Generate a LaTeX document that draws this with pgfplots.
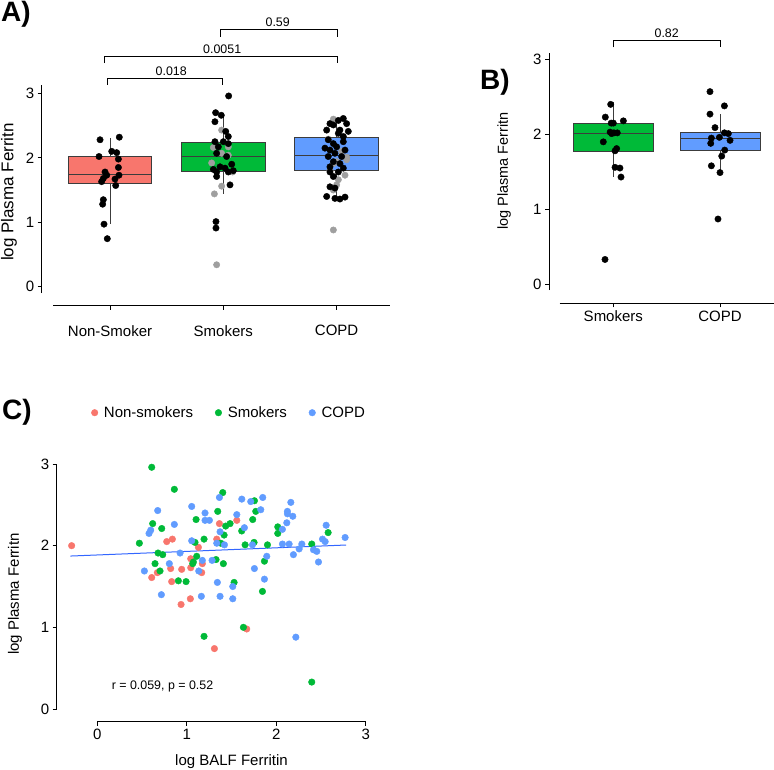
\documentclass[border=0pt]{standalone}
\usepackage{fontspec}
\setmainfont{Liberation Sans}
\usepackage{pgfplots}
\pgfplotsset{compat=1.18}
\usepgfplotslibrary{statistics}
\definecolor{gred}{HTML}{F8766D}
\definecolor{ggreen}{HTML}{00BA38}
\definecolor{gblue}{HTML}{619CFF}
\definecolor{boxline}{HTML}{3C3C3C}
\definecolor{smoothline}{HTML}{3366FF}
\newcommand{\tickfont}{\fontsize{15}{18}\selectfont}
\newcommand{\smallfont}{\fontsize{12.4}{15}\selectfont}

\pgfplotsset{
  panel/.style={
    scale only axis, clip=false,
    axis x line*=bottom, axis y line*=left,
    axis line style={draw=none},
    tick style={black, line width=0.8pt},
    major tick length=4pt, tick align=outside,
    ticklabel style={font=\tickfont},
    /pgf/number format/assume math mode=true,
    ytick={0,1,2,3},
  },
  bx/.style={draw=boxline, line width=0.9pt},
  dots/.style={only marks, mark=*, mark size=3.2pt},
}

\begin{document}
\begin{tikzpicture}
\useasboundingbox (0,0) rectangle (774pt,770pt);

% ---------------- panel A
\begin{axis}[panel, at={(41.7pt,464.3pt)}, anchor=south west,
  width=348.3pt, height=220.7pt,
  xmin=0.397, xmax=3.471, ymin=-0.295, ymax=3.13,
  xtick={1,2,3}, xticklabels={Non-Smoker,Smokers,COPD},
  xticklabel style={yshift=-12pt}]
\addplot[bx, fill=gred, boxplot prepared={draw direction=y, draw position=1, lower whisker=0.97, lower quartile=1.60, median=1.74, upper quartile=2.02, upper whisker=2.31, box extend=0.74, whisker extend=0}] coordinates {};
\addplot[bx, fill=ggreen, boxplot prepared={draw direction=y, draw position=2, lower whisker=1.44, lower quartile=1.79, median=2.02, upper quartile=2.235, upper whisker=2.69, box extend=0.74, whisker extend=0}] coordinates {};
\addplot[bx, fill=gblue, boxplot prepared={draw direction=y, draw position=3, lower whisker=1.36, lower quartile=1.81, median=2.03, upper quartile=2.32, upper whisker=2.61, box extend=0.74, whisker extend=0}] coordinates {};
% grey points
\addplot[dots, gray!75] coordinates {
(1.985,2.43)(1.912,2.16)(2.044,2.17)(1.985,2.07)(2.044,2.04)(1.897,1.92)(2.082,1.78)(1.985,1.56)(1.921,1.44)(1.941,0.34)
(2.971,2.60)(2.926,2.29)(3.044,2.10)(3.088,2.01)(3.088,1.97)(2.971,1.91)(3.000,1.94)(2.941,1.81)(3.074,1.73)(3.015,1.66)(3.000,1.58)(2.971,1.50)(2.971,0.88)
};
% black points
\addplot[dots, black] coordinates {
(0.912,2.28)(1.082,2.32)(0.903,2.02)(1.015,2.10)(1.059,2.08)(1.074,1.98)(1.074,1.85)(0.956,1.78)(0.971,1.73)(0.941,1.68)(0.926,1.63)(1.079,1.73)(1.044,1.67)(1.050,1.57)(0.941,1.35)(0.935,1.28)(0.947,0.97)(0.976,0.745)
(2.047,2.96)(1.932,2.70)(1.982,2.66)(1.926,2.56)(2.021,2.41)(2.044,2.33)(1.926,2.25)(2.000,2.25)(2.044,2.22)(1.956,2.17)(1.941,2.07)(2.029,2.02)(2.074,1.90)(1.912,1.82)(1.941,1.78)(1.971,1.86)(2.015,1.84)(2.044,1.78)(2.088,1.80)(1.941,1.71)(2.059,1.58)(1.935,1.01)(1.935,0.91)
(3.059,2.61)(3.015,2.58)(3.088,2.53)(2.941,2.53)(2.912,2.43)(2.971,2.51)(3.029,2.43)(3.103,2.41)(3.015,2.38)(3.059,2.33)(2.926,2.28)(2.971,2.22)(3.059,2.25)(2.897,2.15)(3.000,2.17)(2.941,2.12)(2.985,2.07)(3.074,2.12)(3.044,2.02)(2.926,2.02)(2.971,1.94)(2.941,1.86)(3.029,1.91)(3.059,1.84)(2.941,1.78)(3.015,1.78)(2.971,1.71)(2.941,1.55)(2.985,1.53)(2.912,1.40)(2.985,1.37)(3.029,1.36)(3.074,1.39)
};
% axis lines
\draw[black, line width=0.9pt] (axis cs:0.397,-0.10) -- (axis cs:0.397,3.13);
\draw[black, line width=0.9pt] (axis cs:0.497,-0.295) -- (axis cs:3.471,-0.295);
% brackets
\draw[line width=0.6pt] (axis cs:0.974,3.13) -- (axis cs:0.974,3.23) -- (axis cs:1.99,3.23) -- (axis cs:1.99,3.13);
\node[font=\smallfont] at (axis cs:1.54,3.35) {0.018};
\draw[line width=0.6pt] (axis cs:0.947,3.47) -- (axis cs:0.947,3.57) -- (axis cs:3.01,3.57) -- (axis cs:3.01,3.47);
\node[font=\smallfont] at (axis cs:1.99,3.69) {0.0051};
\draw[line width=0.6pt] (axis cs:1.977,3.88) -- (axis cs:1.977,3.99) -- (axis cs:3.01,3.99) -- (axis cs:3.01,3.88);
\node[font=\smallfont] at (axis cs:2.48,4.11) {0.59};
\end{axis}

% ---------------- panel B
\begin{axis}[panel, at={(549pt,466.7pt)}, anchor=south west,
  width=225pt, height=250.6pt,
  xmin=0.397, xmax=2.506, ymin=-0.255, ymax=3.09,
  xtick={1,2}, xticklabels={Smokers,COPD}]
\addplot[bx, fill=ggreen, boxplot prepared={draw direction=y, draw position=1, lower whisker=1.437, lower quartile=1.77, median=2.01, upper quartile=2.144, upper whisker=2.43, box extend=0.75, whisker extend=0}] coordinates {};
\addplot[bx, fill=gblue, boxplot prepared={draw direction=y, draw position=2, lower whisker=1.49, lower quartile=1.79, median=1.95, upper quartile=2.02, upper whisker=2.27, box extend=0.75, whisker extend=0}] coordinates {};
\addplot[dots, black] coordinates {
(0.975,2.40)(0.925,2.23)(0.98,2.15)(1.0,2.15)(1.094,2.18)(0.984,2.01)(0.97,2.03)(1.006,2.02)(1.037,2.02)(0.906,1.90)(1.031,1.81)(1.016,1.78)(1.016,1.56)(1.062,1.55)(1.072,1.43)(0.922,0.33)
(1.906,2.57)(1.906,2.27)(2.041,2.38)(1.953,2.09)(1.919,1.95)(1.913,1.88)(1.994,1.96)(2.041,2.02)(2.078,2.01)(2.094,1.92)(2.044,1.79)(2.016,1.71)(1.919,1.58)(2.0,1.49)(1.981,0.87)
};
\draw[black, line width=0.9pt] (axis cs:0.397,-0.078) -- (axis cs:0.397,3.09);
\draw[black, line width=0.9pt] (axis cs:0.497,-0.255) -- (axis cs:2.506,-0.255);
\draw[line width=0.6pt] (axis cs:1,3.16) -- (axis cs:1,3.26) -- (axis cs:2,3.26) -- (axis cs:2,3.16);
\node[font=\smallfont] at (axis cs:1.5,3.35) {0.82};
\end{axis}

% ---------------- panel C
\begin{axis}[panel, at={(56.7pt,48.3pt)}, anchor=south west,
  width=309pt, height=257.7pt,
  xmin=-0.454, xmax=3.0, ymin=-0.155, ymax=3.0,
  xtick={0,1,2,3},
  legend columns=3,
  legend style={draw=none, fill=none, at={(0.558,1.199)}, anchor=center, font=\tickfont,
    /tikz/every odd column/.append style={column sep=4pt},
    /tikz/every even column/.append style={column sep=20pt}},
  legend cell align=left]
\addplot[dots, gred, mark size=3.3pt] coordinates {
(-0.287,2.00)(0.608,1.61)(0.671,1.67)(0.776,2.05)(0.839,2.08)(0.820,1.72)(0.831,1.56)(0.943,1.71)(0.936,1.28)(1.044,1.73)(1.044,1.84)(1.040,1.35)(1.130,1.98)(1.167,1.67)(1.174,1.78)(1.335,2.08)(1.365,2.27)(1.559,2.31)(1.309,0.74)(1.670,0.98)
};
\addlegendentry{Non-smokers}
\addplot[dots, ggreen, mark size=3.3pt] coordinates {
(0.608,2.96)(0.470,2.03)(0.619,2.27)(0.720,2.21)(0.679,1.91)(0.731,1.89)(0.645,1.78)(0.701,1.69)(0.861,2.69)(0.906,1.57)(0.992,1.56)(1.104,2.32)(1.092,2.04)(1.111,1.87)(1.074,1.80)(1.066,1.78)(1.193,2.08)(1.193,0.89)(1.346,2.42)(1.402,2.65)(1.380,2.03)(1.327,1.83)(1.409,1.78)(1.417,2.13)(1.435,2.24)(1.484,2.27)(1.529,1.55)(1.614,2.18)(1.652,2.01)(1.633,1.00)(1.737,2.32)(1.756,2.55)(1.771,2.42)(1.752,2.04)(1.846,1.44)(1.868,1.81)(1.902,2.01)(2.017,2.23)(2.017,2.15)(2.397,2.02)(2.397,0.33)(2.580,2.16)
};
\addlegendentry{Smokers}
\addplot[dots, gblue, mark size=3.3pt] coordinates {
(0.526,1.69)(0.578,2.15)(0.597,2.19)(0.675,2.43)(0.716,1.40)(0.861,2.26)(0.805,1.78)(0.925,1.91)(1.055,2.48)(1.055,2.06)(1.134,1.69)(1.163,1.38)(1.174,1.82)(1.204,2.40)(1.204,2.31)(1.253,2.31)(1.283,1.82)(1.335,2.03)(1.342,1.55)(1.365,2.59)(1.372,2.17)(1.372,1.38)(1.421,2.01)(1.514,1.50)(1.514,1.35)(1.559,2.38)(1.615,2.57)(1.644,2.22)(1.715,2.54)(1.734,2.01)(1.756,1.72)(1.827,2.44)(1.849,2.59)(1.868,1.59)(1.894,1.87)(2.069,2.20)(2.069,2.02)(2.118,2.28)(2.125,2.42)(2.125,2.39)(2.144,2.02)(2.163,2.53)(2.185,2.36)(2.192,1.89)(2.219,0.88)(2.256,1.96)(2.286,2.02)(2.416,1.95)(2.453,1.93)(2.472,1.80)(2.517,2.08)(2.547,2.05)(2.558,2.25)(2.770,2.10)
};
\addlegendentry{COPD}
\addplot[smoothline, line width=1pt, forget plot] coordinates {(-0.3,1.873)(2.78,2.008)};
\draw[black, line width=0.9pt] (axis cs:-0.454,0) -- (axis cs:-0.454,3);
\draw[black, line width=0.9pt] (axis cs:0,-0.155) -- (axis cs:3,-0.155);
\node[font=\smallfont, anchor=west] at (axis cs:0.123,0.28) {r = 0.059, p = 0.52};
\end{axis}

% texts outside the axes
\node[font=\fontsize{28}{30}\selectfont\bfseries, anchor=base west, inner sep=0pt] at (1pt,748pt) {A)};
\node[font=\fontsize{28}{30}\selectfont\bfseries, anchor=base west, inner sep=0pt] at (480pt,680pt) {B)};
\node[font=\fontsize{28}{30}\selectfont\bfseries, anchor=base west, inner sep=0pt] at (2pt,350pt) {C)};
\node[rotate=90, font=\fontsize{17}{20}\selectfont] at (9pt,578pt) {log Plasma Ferritn};
\node[rotate=90, font=\fontsize{14.5}{17}\selectfont] at (504pt,599pt) {log Plasma Ferritn};
\node[rotate=90, font=\fontsize{15}{18}\selectfont] at (15pt,176pt) {log Plasma Ferritn};
\node[font=\tickfont] at (231.5pt,8.3pt) {log BALF Ferritin};
\end{tikzpicture}
\end{document}
